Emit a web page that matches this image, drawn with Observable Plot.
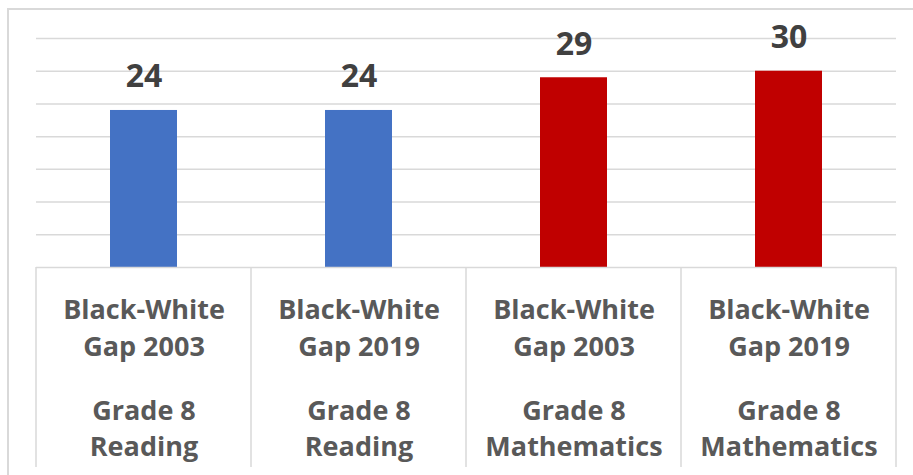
<!DOCTYPE html>
<html><head><meta charset="utf-8">
<script src="https://cdn.jsdelivr.net/npm/d3@7"></script>
<script src="https://cdn.jsdelivr.net/npm/@observablehq/plot@0.6"></script>
<style>
html,body{margin:0;padding:0;background:#fff;}
#wrap{position:relative;width:913px;height:475px;overflow:hidden;}
#chart{position:absolute;left:0;top:0;}
#border{position:absolute;left:7px;top:8px;width:940px;height:500px;border-top:2px solid #d9d9d9;border-left:2px solid #d9d9d9;pointer-events:none;}
</style></head><body>
<div id="wrap"><div id="chart"></div><div id="border"></div></div>
<script>
// Data
const gapLabels = ["Black-White\nGap 2003", "Black-White\nGap 2019", "Black-White\nGap 2003", "Black-White\nGap 2019"];
const subjectLabels = ["Grade 8\nReading", "Grade 8\nReading", "Grade 8\nMathematics", "Grade 8\nMathematics"];
const subjects = ["Reading", "Reading", "Mathematics", "Mathematics"];
const gaps = [24, 24, 29, 30];
const gridTicks = [5, 10, 15, 20, 25, 30, 35];
const subjectDomain = ["Reading", "Mathematics"];
const subjectColors = ["#4472C4", "#C00000"];

const data = gaps.map((v, i) => ({key: i, gap: gapLabels[i], subject: subjects[i], subjectLabel: subjectLabels[i], value: v}));

const FONT = "'Open Sans', 'Liberation Sans', sans-serif";

const separators = (index, scales, values, dims) => {
  const x = scales.x, y = scales.y;
  const step = x.step(), bw = x.bandwidth();
  const g = d3.create("svg:g");
  const xs = x.domain().map(k => x(k) - (step - bw) / 2);
  xs.push(xs[xs.length - 1] + step);
  for (const px of xs) {
    g.append("line")
      .attr("x1", px).attr("x2", px)
      .attr("y1", y(0)).attr("y2", dims.height - 8)
      .attr("stroke", "#d9d9d9").attr("stroke-width", 1.5);
  }
  return g.node();
};

const chart = Plot.plot({
  width: 913,
  height: 475,
  marginLeft: 36,
  marginRight: 17,
  marginTop: 38,
  marginBottom: 208,
  style: {background: "transparent", fontFamily: FONT},
  x: {domain: data.map(d => d.key), paddingInner: 0.688, paddingOuter: 0.344, axis: null},
  y: {domain: [0, 35], axis: null},
  color: {domain: subjectDomain, range: subjectColors},
  marks: [
    Plot.ruleY(gridTicks, {stroke: "#d9d9d9", strokeWidth: 1.5}),
    Plot.barY(data, {x: "key", y: "value", fill: "subject"}),
    Plot.ruleY([0], {stroke: "#d9d9d9", strokeWidth: 1.5}),
    separators,
    Plot.text(data, {x: "key", y: "value", text: d => String(d.value), lineAnchor: "bottom", dy: -23,
      fill: "#404040", fontSize: 32, fontWeight: "bold", fontFamily: FONT}),
    Plot.text(data, {x: "key", y: 0, text: "gap", lineAnchor: "top", dy: 25, lineHeight: 1.37,
      fill: "#595959", fontSize: 27, fontWeight: "bold", fontFamily: FONT}),
    Plot.text(data, {x: "key", y: 0, text: "subjectLabel", lineAnchor: "top", dy: 128, lineHeight: 1.3,
      fill: "#595959", fontSize: 27, fontWeight: "bold", fontFamily: FONT})
  ]
});
document.getElementById("chart").appendChild(chart);
</script>
</body></html>
